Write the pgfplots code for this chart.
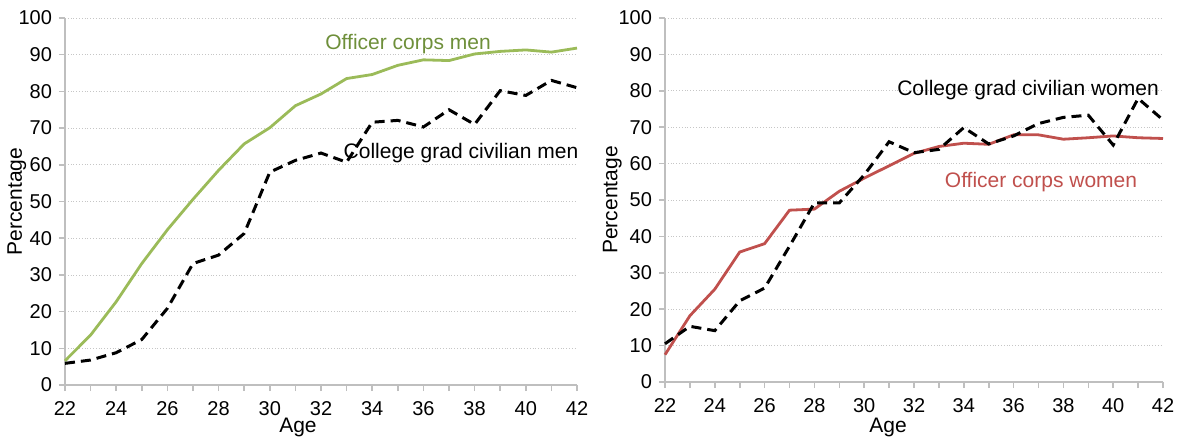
\documentclass[border=0pt]{standalone}
\usepackage{pgfplots}
\pgfplotsset{compat=1.18}
\usepackage{fontspec}
\setmainfont{Liberation Sans}

\definecolor{offgreen}{HTML}{9BBB59}
\definecolor{offgreentxt}{HTML}{6E8F3A}
\definecolor{offred}{HTML}{C0504D}
\definecolor{axgray}{HTML}{BFBFBF}

\pgfplotsset{
  agechart/.style={
    scale only axis,
    anchor=south west,
    xmin=22, xmax=42, ymin=0, ymax=100,
    xtick={22,24,...,42},
    minor xtick={23,25,...,41},
    ytick={0,10,...,100},
    axis x line=bottom, axis y line=left,
    axis line style={-, axgray, line width=0.8pt},
    tick style={axgray, line width=0.8pt},
    tick align=outside,
    major tick length=3pt, minor tick length=3pt,
    ymajorgrids=true,
    grid style={densely dotted, gray!45, line width=0.4pt},
    tick label style={font=\fontsize{10}{11}\selectfont},
    xticklabel style={yshift=-1.5pt},
    /pgf/number format/assume math mode=true,
    label style={font=\fontsize{10.5}{12}\selectfont},
    xlabel={Age},
    ylabel={Percentage},
    clip=false,
  },
  civ/.style={black, line width=1.5pt, dash pattern=on 5pt off 3pt},
}

\begin{document}
\begin{tikzpicture}

% men
\begin{axis}[agechart, at={(32.5pt,27pt)}, width=256pt, height=183.5pt,
  xlabel style={at={(axis description cs:0.455,-0.117)}, anchor=center},
  ylabel style={at={(axis description cs:-0.094,0.5)}, anchor=center}]
\addplot[offgreen, line width=1.4pt] coordinates {
(22,6.6) (23,13.6) (24,22.7) (25,33.1) (26,42.3) (27,50.6) (28,58.5)
(29,65.7) (30,70.1) (31,76.1) (32,79.3) (33,83.5) (34,84.6) (35,87.1)
(36,88.6) (37,88.4) (38,90.2) (39,90.9) (40,91.3) (41,90.7) (42,91.8)};
\addplot[civ] coordinates {
(22,5.9) (23,6.8) (24,8.8) (25,12.4) (26,20.9) (27,33.1) (28,35.4)
(29,41.3) (30,58.0) (31,61.2) (32,63.2) (33,60.7) (34,71.6) (35,72.1)
(36,70.3) (37,75.0) (38,71.0) (39,80.2) (40,78.9) (41,83.0) (42,81.0)};
\node[text=offgreentxt, font=\fontsize{10.5}{12}\selectfont] at (axis cs:35.4,92.9) {Officer corps men};
\node[font=\fontsize{10.5}{12}\selectfont] at (axis cs:37.47,63.2) {College grad civilian men};
\end{axis}

% women
\begin{axis}[agechart, at={(332.5pt,28.5pt)}, width=249pt, height=182pt,
  xlabel style={at={(axis description cs:0.448,-0.126)}, anchor=center},
  ylabel style={at={(axis description cs:-0.106,0.5)}, anchor=center}]
\addplot[offred, line width=1.4pt] coordinates {
(22,7.5) (23,18.2) (24,25.5) (25,35.7) (26,38.0) (27,47.2) (28,47.5)
(29,52.4) (30,56.0) (31,59.4) (32,62.8) (33,64.7) (34,65.6) (35,65.3)
(36,67.9) (37,67.9) (38,66.7) (39,67.1) (40,67.6) (41,67.1) (42,66.9)};
\addplot[civ] coordinates {
(22,10.5) (23,15.3) (24,14.1) (25,22.3) (26,25.8) (27,37.3) (28,49.2)
(29,49.2) (30,56.9) (31,66.0) (32,63.0) (33,63.9) (34,69.9) (35,65.4)
(36,67.6) (37,71.0) (38,72.7) (39,73.3) (40,65.1) (41,77.9) (42,72.0)};
\node[font=\fontsize{10.5}{12}\selectfont] at (axis cs:36.58,80.2) {College grad civilian women};
\node[text=offred, font=\fontsize{10.5}{12}\selectfont] at (axis cs:37.1,54.9) {Officer corps women};
\end{axis}

\pgfresetboundingbox
\path (0,0) rectangle (588.5pt,219.5pt);
\end{tikzpicture}
\end{document}
